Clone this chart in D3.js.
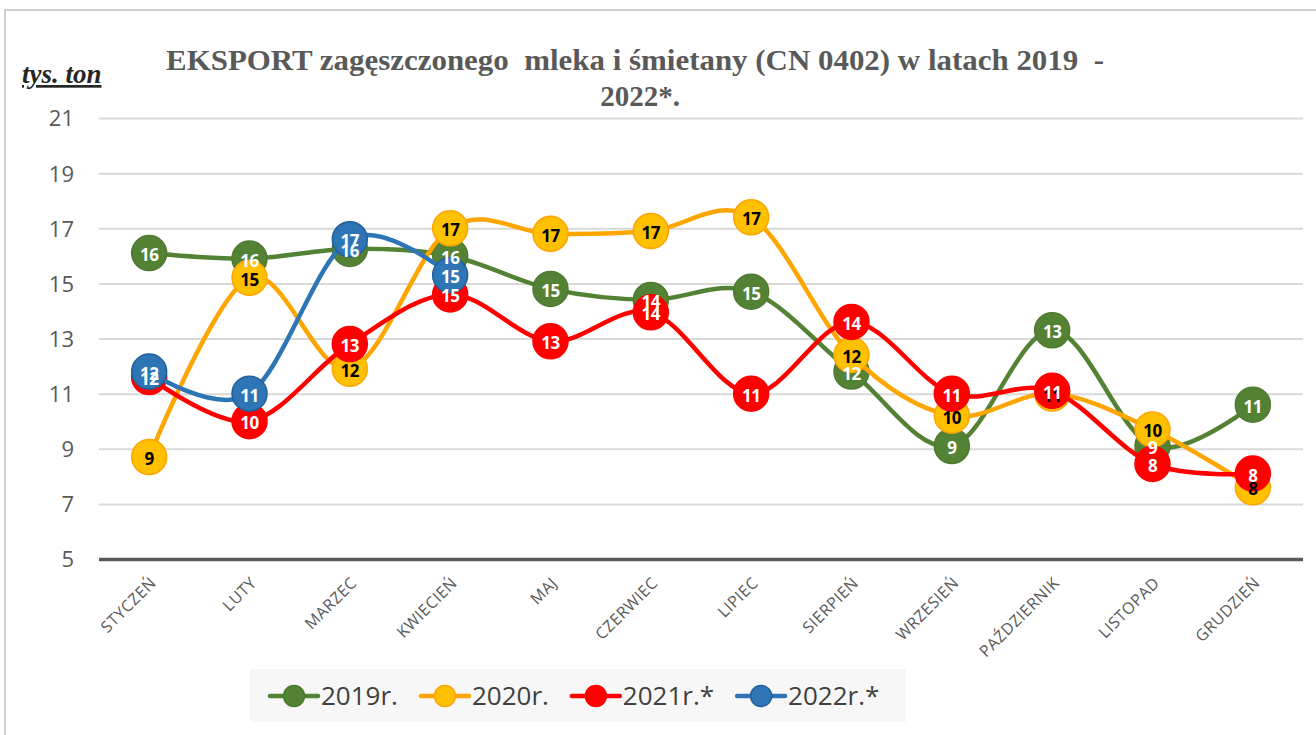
<!DOCTYPE html>
<html>
<head>
<meta charset="utf-8">
<script src="https://cdnjs.cloudflare.com/ajax/libs/d3/7.8.5/d3.min.js"></script>
<style>
html,body{margin:0;padding:0;background:#fff;overflow:hidden}
</style>
</head>
<body>
<div id="chart"></div>
<script>
var months = ["STYCZEŃ","LUTY","MARZEC","KWIECIEŃ","MAJ","CZERWIEC","LIPIEC","SIERPIEŃ","WRZESIEŃ","PAŹDZIERNIK","LISTOPAD","GRUDZIEŃ"];
var yTicks = [5,7,9,11,13,15,17,19,21];
var seriesNames = ["2019r.","2020r.","2021r.*","2022r.*"];
var v2019 = [16.1,15.9,16.25,16.0,14.8,14.4,14.7,11.8,9.1,13.3,9.1,10.6];
var v2020 = [8.7,15.2,11.9,17.0,16.8,16.9,17.4,12.4,10.2,11.0,9.7,7.6];
var v2021 = [11.6,10.0,12.8,14.6,12.9,13.95,11.0,13.6,11.0,11.1,8.45,8.1];
var v2022 = [11.8,11.0,16.6,15.3];
var titleLines = ["EKSPORT zagęszczonego  mleka i śmietany (CN 0402) w latach 2019  -","2022*."];
var unitLabel = "tys. ton";

var lineColors = ["#548235","#ffa500","#ff0000","#2e75b6"];
var markerFill = ["#548235","#ffc000","#ff0000","#2e75b6"];
var markerStroke = ["#4f7a31","#ffa500","#ff0000","#22609a"];
var labelColors = ["#ffffff","#000000","#ffffff","#ffffff"];

var Chart = function(target){
    this.canvas = target;
    this.width = 1316;
    this.height = 735;
    this.left = 99;
    this.right = 1303;
    this.top = 118;
    this.bottom = 559;
    this.font = "'Open Sans','Noto Sans',sans-serif";
    this.series = [v2019,v2020,v2021,v2022];
    this.init();
};

var ch = Chart.prototype;

ch.init = function(){
    this.svg = d3.select(this.canvas)
    .append("svg")
    .attr("width",this.width)
    .attr("height",this.height);

    this.x = d3.scaleBand().domain(months).range([this.left,this.right]);
    this.y = d3.scaleLinear().domain([5,21]).range([this.bottom,this.top]);

    this.setFrame();
    this.setTitle();
    this.setAxes();
    this.setLines();
    this.setLabels();
    this.setLegend();
};

ch.setFrame = function(){
    this.svg.append("rect")
    .attr("x",5).attr("y",10)
    .attr("width",1340).attr("height",760)
    .attr("fill","#fff")
    .attr("stroke","#d0d0d0")
    .attr("stroke-width",2);
};

ch.setTitle = function(){
    var g = this.svg.append("g");
    g.append("text")
    .attr("x",166).attr("y",70)
    .attr("font-family","'Liberation Serif','Times New Roman',serif")
    .attr("font-weight","bold")
    .attr("font-size",29)
    .attr("fill","#595959")
    .style("white-space","pre")
    .attr("textLength",938)
    .attr("lengthAdjust","spacingAndGlyphs")
    .text(titleLines[0]);
    g.append("text")
    .attr("x",640).attr("y",106)
    .attr("text-anchor","middle")
    .attr("font-family","'Liberation Serif','Times New Roman',serif")
    .attr("font-weight","bold")
    .attr("font-size",29)
    .attr("fill","#595959")
    .text(titleLines[1]);

    g.append("text")
    .attr("x",22).attr("y",83)
    .attr("font-family","'Liberation Serif','Times New Roman',serif")
    .attr("font-style","italic")
    .attr("font-weight","bold")
    .attr("font-size",27)
    .attr("fill","#262626")
    .attr("text-decoration","underline")
    .text(unitLabel);
};

ch.setAxes = function(){
    var yAxis = d3.axisLeft(this.y)
    .tickValues(yTicks)
    .tickSize(-(this.right - this.left))
    .tickPadding(25)
    .tickFormat(d3.format("d"));
    var gy = this.svg.append("g")
    .attr("transform","translate(" + this.left + ",0)")
    .call(yAxis);
    gy.select(".domain").remove();
    gy.selectAll(".tick line")
    .attr("stroke",function(d){ return d === 5 ? "#595959" : "#d9d9d9"; })
    .attr("stroke-width",function(d){ return d === 5 ? 3.5 : 2; });
    gy.selectAll(".tick text")
    .attr("font-family",this.font)
    .attr("font-size",22)
    .attr("fill","#595959")
    .attr("dy","0.36em");

    var xAxis = d3.axisBottom(this.x).tickSize(0);
    var gx = this.svg.append("g")
    .attr("transform","translate(0," + this.bottom + ")")
    .call(xAxis);
    gx.select(".domain").remove();
    gx.selectAll(".tick text")
    .attr("y",0).attr("dy",0)
    .attr("text-anchor","end")
    .attr("transform","translate(8,25) rotate(-45)")
    .attr("font-family",this.font)
    .attr("font-size",16)
    .attr("letter-spacing",0.5)
    .attr("fill","#595959");
};

ch.setLines = function(){
    var c = this;
    var line = d3.line()
    .x(function(d,i){ return c.x(months[i]) + c.x.bandwidth()/2; })
    .y(function(d){ return c.y(d); })
    .curve(d3.curveCatmullRom.alpha(0));
    $each(this.series,function(vals,s){
        var g = c.svg.append("g").attr("class","series-" + s);
        g.append("path")
        .attr("d",line(vals))
        .attr("fill","none")
        .attr("stroke",lineColors[s])
        .attr("stroke-width",4.5)
        .attr("stroke-linecap","round");
        g.selectAll("circle")
        .data(vals)
        .enter()
        .append("circle")
        .attr("cx",function(d,i){ return c.x(months[i]) + c.x.bandwidth()/2; })
        .attr("cy",function(d){ return c.y(d); })
        .attr("r",17.5)
        .attr("fill",markerFill[s])
        .attr("stroke",markerStroke[s])
        .attr("stroke-width",1.5);
    });
};

ch.setLabels = function(){
    var c = this;
    $each(this.series,function(vals,s){
        c.svg.append("g")
        .selectAll("text")
        .data(vals)
        .enter()
        .append("text")
        .attr("x",function(d,i){ return c.x(months[i]) + c.x.bandwidth()/2; })
        .attr("y",function(d){ return c.y(d) + 8; })
        .attr("text-anchor","middle")
        .attr("font-family",c.font)
        .attr("font-weight","bold")
        .attr("font-size",17)
        .attr("letter-spacing",-0.5)
        .attr("fill",labelColors[s])
        .text(function(d){ return Math.round(d); });
    });
};

ch.setLegend = function(){
    var c = this;
    var g = this.svg.append("g");
    g.append("rect")
    .attr("x",250).attr("y",669)
    .attr("width",656).attr("height",53)
    .attr("fill","#f7f7f7");
    var xpos = 270;
    $each(seriesNames,function(name,s){
        g.append("line")
        .attr("x1",xpos).attr("x2",xpos + 48)
        .attr("y1",696).attr("y2",696)
        .attr("stroke",lineColors[s])
        .attr("stroke-width",4.5)
        .attr("stroke-linecap","round");
        g.append("circle")
        .attr("cx",xpos + 24).attr("cy",696)
        .attr("r",10.5)
        .attr("fill",markerFill[s])
        .attr("stroke",markerStroke[s])
        .attr("stroke-width",1.5);
        var t = g.append("text")
        .attr("x",xpos + 51).attr("y",705)
        .attr("font-family",c.font)
        .attr("font-size",26)
        .attr("fill","#404040")
        .text(name);
        xpos += 51 + t.node().getComputedTextLength() + 23;
    });
};

function $each(arr,fn){
    for(var i = 0; i < arr.length; i++){ fn(arr[i],i); }
}

new Chart("#chart");
</script>
</body>
</html>
